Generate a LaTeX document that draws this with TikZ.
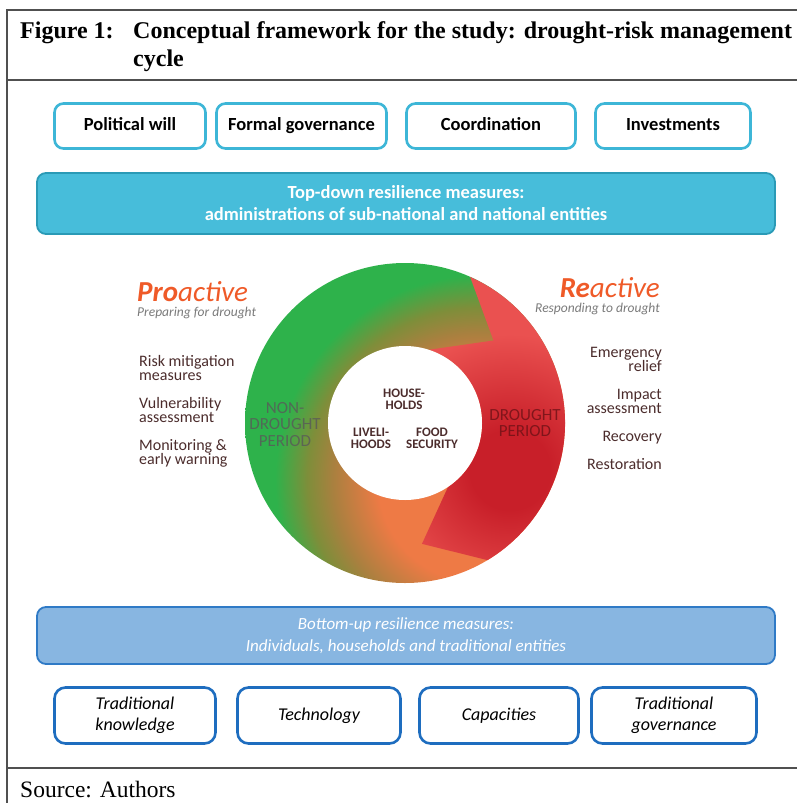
\documentclass[tikz,border=0pt]{standalone}
\usepackage{fontspec}
\setmainfont{Liberation Serif}
\newfontfamily\lancetfont{Carlito}
\usetikzlibrary{positioning, calc, shapes}

\definecolor{framegray}{HTML}{505050}
\definecolor{topedge}{HTML}{3DB6D7}
\definecolor{topfill}{HTML}{47BDDA}
\definecolor{topbarline}{HTML}{2A9AB6}
\definecolor{botfill}{HTML}{88B6E1}
\definecolor{botbarline}{HTML}{2F7AC6}
\definecolor{boxedge}{HTML}{1E6DBF}
\definecolor{proorange}{HTML}{EF5A28}
\definecolor{subgray}{HTML}{7A7A7A}
\definecolor{listbrown}{HTML}{4B2C2C}
\definecolor{ringgreen}{HTML}{2EB24B}
\definecolor{ringolive}{HTML}{7E8E3A}
\definecolor{ringbrown}{HTML}{A9803F}
\definecolor{ringorange}{HTML}{EE7A45}
\definecolor{redlight}{HTML}{EA5150}
\definecolor{reddark}{HTML}{C81F29}

% symmetric shadings, placed by the circle that is shaded
\pgfdeclareradialshading{dryshade}{\pgfpointorigin}{color(0bp)=(ringorange); color(8bp)=(ringorange); color(11.5bp)=(ringbrown); color(13.5bp)=(ringolive); color(16bp)=(ringgreen); color(50bp)=(ringgreen)}
\pgfdeclareradialshading{wetshade}{\pgfpointorigin}{color(0bp)=(reddark); color(5bp)=(reddark); color(17bp)=(redlight); color(50bp)=(redlight)}

\begin{document}
\begin{tikzpicture}[x=1pt, y=-1pt,
  frame/.style={draw=framegray, line width=1.4pt},
  topbox/.style={draw=topedge, line width=2.6pt, rounded corners=9pt, fill=white, minimum height=45pt, inner sep=0pt, text height=12pt, text depth=3.5pt, font=\lancetfont\bfseries\fontsize{18.5}{20}\selectfont},
  botbox/.style={draw=boxedge, line width=2.6pt, rounded corners=11pt, fill=white, minimum height=56pt, inner sep=0pt, align=center, font=\lancetfont\itshape\fontsize{18}{21}\selectfont},
  bar/.style={rounded corners=9pt, line width=1.8pt, inner sep=0pt, align=center, text=white},
  measure/.style={font=\lancetfont\fontsize{16}{14}\selectfont, text=listbrown, inner sep=0pt},
  heading/.style={font=\lancetfont\itshape\fontsize{29}{30}\selectfont, text=proorange, inner sep=0pt},
  subhead/.style={font=\lancetfont\itshape\fontsize{13.5}{14}\selectfont, text=subgray, inner sep=0pt},
  period/.style={font=\lancetfont\fontsize{17}{16.5}\selectfont, align=center, inner sep=0pt, opacity=0.8},
  core/.style={font=\lancetfont\bfseries\fontsize{13}{11.8}\selectfont, text=listbrown, align=center, inner sep=0pt}]

  \useasboundingbox (0,0) rectangle (797,803);

  % frame and caption
  \draw[frame] (797,10) -- (7,10) -- (7,803);
  \draw[frame] (7,80) -- (797,80);
  \draw[frame] (7,768) -- (797,768);
  \node[anchor=base west, inner sep=0pt, font=\bfseries\fontsize{24}{28}\selectfont] (fig) at (20,38) {Figure 1:};
  \node[anchor=base west, inner sep=0pt, align=left, font=\bfseries\fontsize{24}{28}\selectfont] (caption) at (133,66) {Conceptual framework for the study: drought-risk management\\cycle};
  \node[anchor=base west, inner sep=0pt, font=\fontsize{23.5}{24}\selectfont] (source) at (20,797) {Source: Authors};

  % top-down side
  \node[topbox, minimum width=151pt] (will) at (130,126) {Political will};
  \node[topbox, minimum width=170pt] (formal) at (301.5,126) {Formal governance};
  \node[topbox, minimum width=169pt] (coord) at (491,126) {Coordination};
  \node[topbox, minimum width=155pt] (invest) at (673,126) {Investments};
  \node[bar, draw=topbarline, fill=topfill, minimum width=738pt, minimum height=61pt, font=\lancetfont\bfseries\fontsize{18.5}{22}\selectfont] (topdown) at (406,203.5) {Top-down resilience measures:\\administrations of sub-national and national entities};

  % the cycle
  \coordinate (ringc) at (405,423);
  \coordinate (dryc) at (480,480);
  \coordinate (wetc) at (510,470);
  \begin{scope}
    \clip (ringc) circle[radius=160pt];
    \shade[shading=dryshade] (dryc) circle[radius=320pt];
  \end{scope}
  \begin{scope}
    \clip ($(ringc)+(66:160pt)$) arc[start angle=66, end angle=-59, radius=160pt]
      -- ($(ringc)+(-82:122pt)$) -- ($(ringc)+(-56:77pt)$)
      arc[start angle=-56, end angle=72, radius=77pt] -- ($(ringc)+(43:121pt)$) -- cycle;
    \shade[shading=wetshade] (wetc) circle[radius=200pt];
  \end{scope}
  \fill[white] (ringc) circle[radius=77pt];

  \node[period, text=black!65, anchor=base] (nondry) at (285,446) {NON-\\DROUGHT\\PERIOD};
  \node[period, text=reddark!55!black, anchor=base] (dry) at (525,436.7) {DROUGHT\\PERIOD};
  \node[core, anchor=base] (house) at (404,409.3) {HOUSE-\\HOLDS};
  \node[core, anchor=base] (liveli) at (371,448.3) {LIVELI-\\HOODS};
  \node[core, anchor=base] (food) at (432,448.3) {FOOD\\SECURITY};

  % proactive / reactive
  \node[heading, anchor=base west] (pro) at (137,301) {\textbf{Pro}active};
  \node[subhead, anchor=base west] (prosub) at ([yshift=-15pt]pro.base west) {Preparing for drought};
  \node[heading, anchor=base east] (re) at (660,297) {\textbf{Re}active};
  \node[subhead, anchor=base east] (resub) at ([yshift=-15pt]re.base east) {Responding to drought};

  \node[measure, anchor=base west, align=left] (riskmit) at (139,380.7) {Risk mitigation\\measures};
  \node[measure, anchor=base west, align=left] (vulner) at (139,422.7) {Vulnerability\\assessment};
  \node[measure, anchor=base west, align=left] (monitor) at (139,464) {Monitoring \&\\early warning};
  \node[measure, anchor=base east, align=right] (emerg) at (662,371) {Emergency\\relief};
  \node[measure, anchor=base east, align=right] (impact) at (662,413.3) {Impact\\assessment};
  \node[measure, anchor=base east] (recov) at (662,441.7) {Recovery};
  \node[measure, anchor=base east] (restor) at (662,469.3) {Restoration};

  % bottom-up side
  \node[bar, draw=botbarline, fill=botfill, minimum width=738pt, minimum height=57pt, font=\lancetfont\itshape\fontsize{17}{22}\selectfont] (bottomup) at (406,635.5) {Bottom-up resilience measures:\\Individuals, households and traditional entities};
  \node[botbox, minimum width=161pt] (tradknow) at (135,715.5) {Traditional\\knowledge};
  \node[botbox, minimum width=163pt] (techno) at (319,715.5) {Technology};
  \node[botbox, minimum width=159pt] (capac) at (499,715.5) {Capacities};
  \node[botbox, minimum width=165pt] (tradgov) at (674,715.5) {Traditional\\governance};
\end{tikzpicture}
\end{document}
